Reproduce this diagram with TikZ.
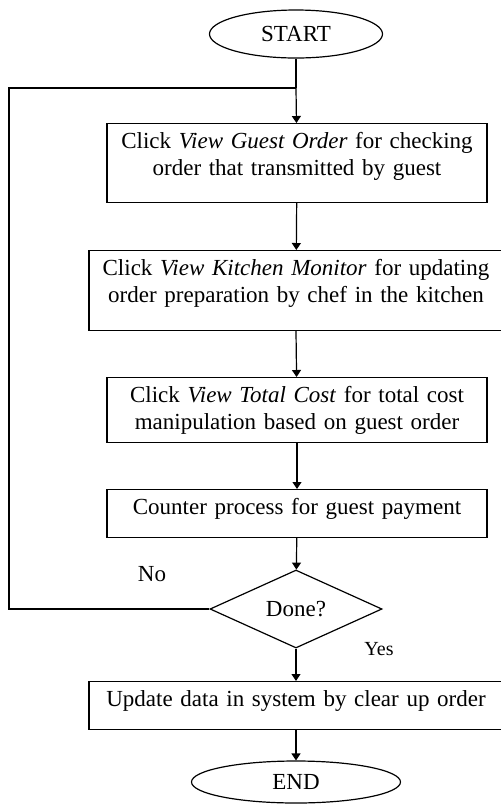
\documentclass[tikz,border=0pt]{standalone}
\usepackage{fontspec}
\setmainfont{Liberation Serif}
\usetikzlibrary{shapes.geometric,arrows.meta}
\tikzset{
  proc/.style={draw=black, line width=0.6pt, anchor=north, inner sep=0pt, minimum width=190pt, text width=186pt, align=center, text height=12.5pt, font=\fontsize{11.5}{13.2}\selectfont},
  wide/.style={proc, minimum width=207pt, text width=203pt},
  term/.style={draw=black, line width=0.6pt, ellipse, inner sep=0pt, minimum width=86.5pt, minimum height=24pt, font=\fontsize{11.5}{13.2}\selectfont},
  test/.style={draw=black, line width=0.6pt, diamond, inner sep=0pt, minimum width=86pt, minimum height=39pt, font=\fontsize{11.5}{13.2}\selectfont},
  arr/.style={line width=0.6pt, -{Triangle[length=3.5pt,width=4.5pt]}}
}
\begin{document}
\begin{tikzpicture}[x=0.5pt, y=-0.5pt]
  \useasboundingbox (0,0) rectangle (500,805);
  \node[term] (start) at (296,34) {START};
  \node[proc, text depth=27pt] (guest) at (297,123) {Click \textit{View Guest Order} for checking\\order that transmitted by guest};
  \node[wide, text depth=27.5pt] (kitchen) at (296,250) {Click \textit{View Kitchen Monitor} for updating\\order preparation by chef in the kitchen};
  \node[proc, text depth=20pt] (cost) at (297,377) {Click \textit{View Total Cost} for total cost\\manipulation based on guest order};
  \node[proc, text depth=11.5pt] (pay) at (297,489) {Counter process for guest payment};
  \node[test] (done) at (296,609) {Done?};
  \node[wide, text depth=11.5pt] (update) at (296,681) {Update data in system by clear up order};
  \node[term, minimum width=104.5pt, minimum height=21pt] (end) at (296,782) {END};
  \node[font=\fontsize{11.5}{13.2}\selectfont] (no) at (152,574) {No};
  \node[font=\fontsize{10}{12}\selectfont] (yes) at (379,649) {Yes};
  \coordinate (join) at (296,88);
  \coordinate (corner) at (9,609);
  \draw[line width=0.6pt] (start) -- (join);
  \draw[arr] (join) -- (guest);
  \draw[arr] (guest) -- (kitchen);
  \draw[arr] (kitchen.south) -- (cost);
  \draw[arr] (cost) -- (pay);
  \draw[arr] (pay) -- (done);
  \draw[arr] (done) -- (update);
  \draw[arr] (update.south) -- (end);
  \draw[line width=0.6pt] (done.west) -- (corner) |- (join);
\end{tikzpicture}
\end{document}
